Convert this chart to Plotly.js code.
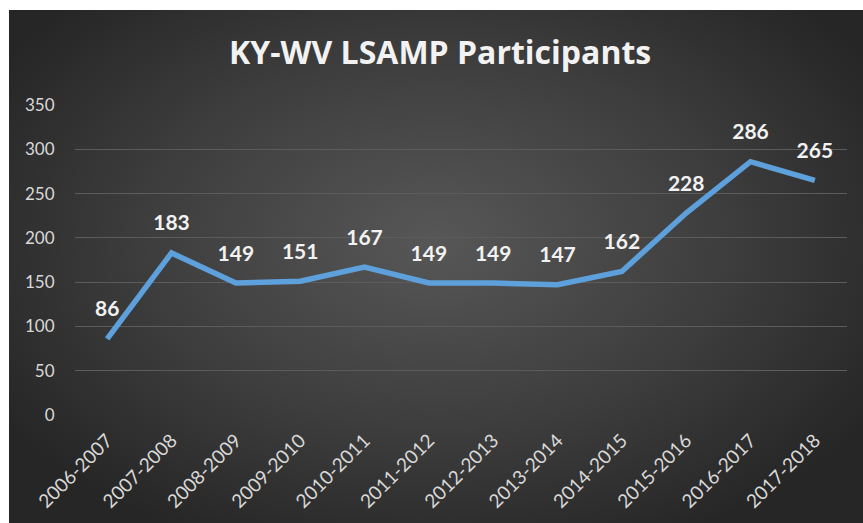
<!DOCTYPE html>
<html>
<head>
<meta charset="utf-8">
<script src="https://cdn.plot.ly/plotly-3.0.1.min.js"></script>
<style>
  html, body { margin: 0; padding: 0; background: #ffffff; }
  #bg { position: absolute; left: 9px; top: 10px; width: 854px; height: 513px;
        background: radial-gradient(ellipse 60% 65% at 50% 45%, #575757 0%, #3e3e3e 55%, #262626 100%); }
  #chart { position: absolute; left: 0; top: 0; width: 863px; height: 523px; }
</style>
</head>
<body>
<div id="bg"></div>
<div id="chart"></div>
<script>
const years = ["2006-2007","2007-2008","2008-2009","2009-2010","2010-2011","2011-2012",
               "2012-2013","2013-2014","2014-2015","2015-2016","2016-2017","2017-2018"];
const participants = [86, 183, 149, 151, 167, 149, 149, 147, 162, 228, 286, 265];
const yTicks = [0, 50, 100, 150, 200, 250, 300, 350];

const trace = {
  x: years,
  y: participants,
  type: 'scatter',
  mode: 'lines+markers+text',
  line: { color: '#5ea0dc', width: 5.5 },
  marker: { size: 26, color: 'rgba(0,0,0,0)' },
  text: participants.map(String),
  textposition: 'top center',
  textfont: { family: 'Lato, sans-serif', size: 21, color: '#f2f2f2', weight: 'bold' },
  cliponaxis: false,
  hoverinfo: 'x+y'
};

const layout = {
  width: 863, height: 523,
  paper_bgcolor: 'rgba(0,0,0,0)',
  plot_bgcolor: 'rgba(0,0,0,0)',
  margin: { l: 75, r: 16, t: 105, b: 108 },
  showlegend: false,
  title: {
    text: 'KY-WV LSAMP Participants',
    font: { family: '"Open Sans", sans-serif', size: 32, color: '#f2f2f2', weight: 'bold' },
    x: 0.51, xref: 'container', xanchor: 'center',
    y: 0.899, yref: 'container', yanchor: 'middle'
  },
  xaxis: {
    type: 'category',
    range: [-0.5, 11.5],
    tickangle: -45,
    tickfont: { family: 'Lato, sans-serif', size: 19, color: '#d9d9d9' },
    showgrid: false, zeroline: false, showline: false,
    ticks: 'outside', ticklen: 6, tickcolor: 'rgba(0,0,0,0)'
  },
  yaxis: {
    range: [0, 350],
    tickvals: yTicks,
    tickfont: { family: 'Lato, sans-serif', size: 17, color: '#d9d9d9' },
    gridcolor: '#5c5c5c', gridwidth: 1,
    zeroline: false, showline: false,
    ticks: 'outside', ticklen: 16, tickcolor: 'rgba(0,0,0,0)'
  }
};

Plotly.newPlot('chart', [trace], layout, { displayModeBar: false, staticPlot: true });
</script>
</body>
</html>
